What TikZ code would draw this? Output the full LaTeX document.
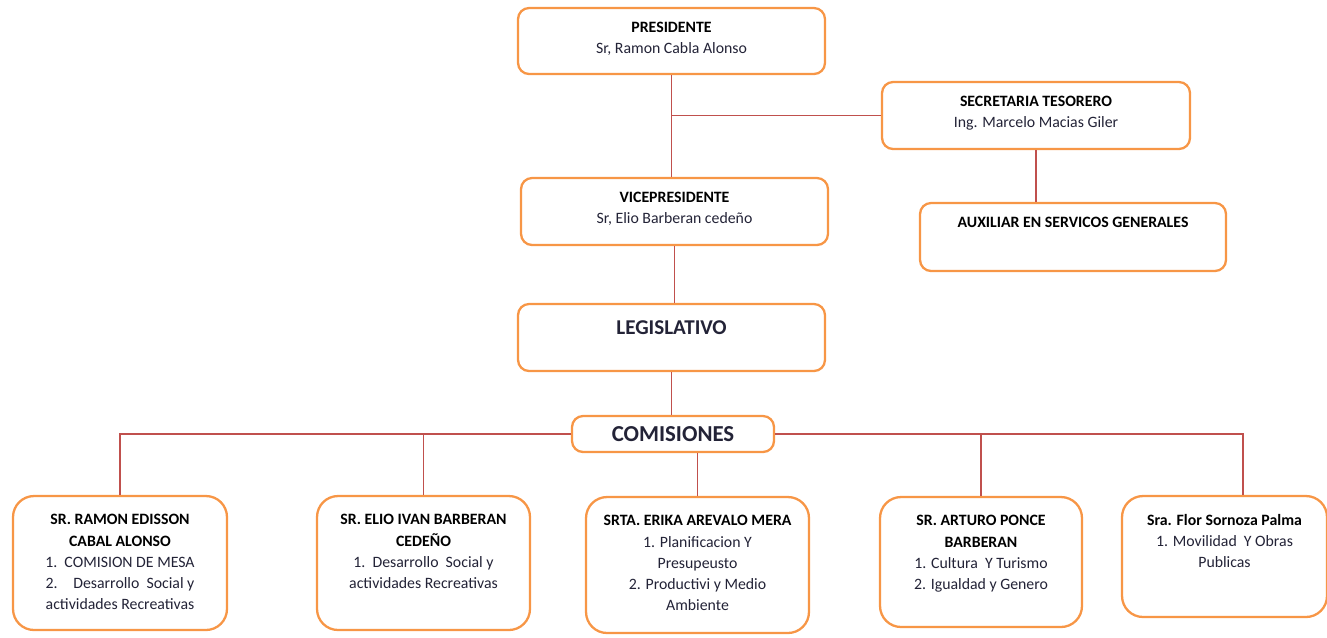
\documentclass[tikz,border=0pt]{standalone}
\usepackage{fontspec}
\setmainfont{Carlito}
\usepackage{tikz}
\usetikzlibrary{positioning}
\definecolor{boxorange}{RGB}{247,150,70}
\definecolor{linkred}{RGB}{192,80,77}
\definecolor{txtgray}{RGB}{35,35,55}
\tikzset{
	orgbox/.style={draw = boxorange, line width = 1.3pt, rounded corners = 0.22cm, fill = white},
	membox/.style={orgbox, rounded corners = 0.42cm},
	boxtext/.style={font = \fontsize{9}{12}\selectfont, align = center, inner sep = 1pt, text = txtgray},
	link/.style={draw = linkred, line width = 1pt}
}
\newcommand{\hd}[1]{\textcolor{black}{\textbf{#1}}}

\begin{document}
\begin{tikzpicture}[x = 0.02cm, y = -0.02cm]
		\useasboundingbox (0, 0) rectangle (1327, 637);
		\node[orgbox, minimum width = 6.14cm, minimum height = 1.32cm] (pres) at (671.5, 41) {};
		\node[orgbox, minimum width = 6.16cm, minimum height = 1.34cm] (sec) at (1036, 115.5) {};
		\node[orgbox, minimum width = 6.14cm, minimum height = 1.34cm] (vice) at (674.5, 211.5) {};
		\node[orgbox, minimum width = 6.12cm, minimum height = 1.36cm] (aux) at (1073, 237) {};
		\node[orgbox, minimum width = 6.14cm, minimum height = 1.34cm] (leg) at (671.5, 337.5) {};
		\node[orgbox, minimum width = 4.04cm, minimum height = 0.72cm, inner sep = 0pt, font = \bfseries\fontsize{13}{15}\selectfont, text = txtgray] (com) at (673, 434) {\raisebox{-2.5pt}{COMISIONES}};
		\node[membox, minimum width = 4.28cm, minimum height = 2.68cm] (ramon) at (120, 563) {};
		\node[membox, minimum width = 4.26cm, minimum height = 2.68cm] (elio) at (423.5, 563) {};
		\node[membox, minimum width = 4.46cm, minimum height = 2.72cm] (erika) at (697.5, 565) {};
		\node[membox, minimum width = 4.04cm, minimum height = 2.60cm] (arturo) at (981, 562) {};
		\node[membox, minimum width = 4.10cm, minimum height = 2.42cm] (flor) at (1224.5, 556.5) {};

		\node[boxtext, below = 7.5pt of pres.north] (presT) {\hd{PRESIDENTE}\\Sr, Ramon Cabla Alonso};
		\node[boxtext, below = 7.5pt of sec.north] (secT) {\hd{SECRETARIA TESORERO}\\Ing. Marcelo Macias Giler};
		\node[boxtext, below = 7.5pt of vice.north] (viceT) {\hd{VICEPRESIDENTE}\\Sr, Elio Barberan cede\~no};
		\node[boxtext, below = 7.5pt of aux.north] (auxT) {\hd{AUXILIAR EN SERVICOS GENERALES}};
		\node[boxtext, below = 9pt of leg.north, font = \bfseries\fontsize{12}{14}\selectfont] (legT) {LEGISLATIVO};
		\node[boxtext, below = 10pt of ramon.north] (ramonT) {\hd{SR. RAMON EDISSON}\\\hd{CABAL ALONSO}\\1.\ \ COMISION DE MESA\\2.\quad Desarrollo\ \ Social y\\actividades Recreativas};
		\node[boxtext, below = 10pt of elio.north] (elioT) {\hd{SR. ELIO IVAN BARBERAN}\\\hd{CEDE\~NO}\\1.\ \ Desarrollo\ \ Social y\\actividades Recreativas};
		\node[boxtext, below = 10pt of erika.north] (erikaT) {\hd{SRTA. ERIKA AREVALO MERA}\\1. Planificacion Y\\Presupeusto\\2. Productivi y Medio\\Ambiente};
		\node[boxtext, below = 10pt of arturo.north] (arturoT) {\hd{SR. ARTURO PONCE}\\\hd{BARBERAN}\\1. Cultura\ \ Y Turismo\\2. Igualdad y Genero};
		\node[boxtext, below = 10pt of flor.north] (florT) {\hd{Sra. Flor Sornoza Palma}\\1. Movilidad\ \ Y Obras\\Publicas};

		\draw[link] (pres.south) -- (pres.south |- vice.north);
		\draw[link] (pres.south |- sec.west) -- (sec.west);
		\draw[link] (sec.south) -- (sec.south |- aux.north);
		\draw[link] (vice.south) -- (vice.south |- leg.north);
		\draw[link] (leg.south) -- (leg.south |- com.north);
		\draw[link] (ramon.north) |- (com.west);
		\draw[link] (elio.north) -- (elio.north |- com.west);
		\draw[link] (erika.north) -- (erika.north |- com.south);
		\draw[link] (arturo.north) -- (arturo.north |- com.east);
		\draw[link] ([xshift = 0.37cm]flor.north) |- (com.east);
\end{tikzpicture}
\end{document}
